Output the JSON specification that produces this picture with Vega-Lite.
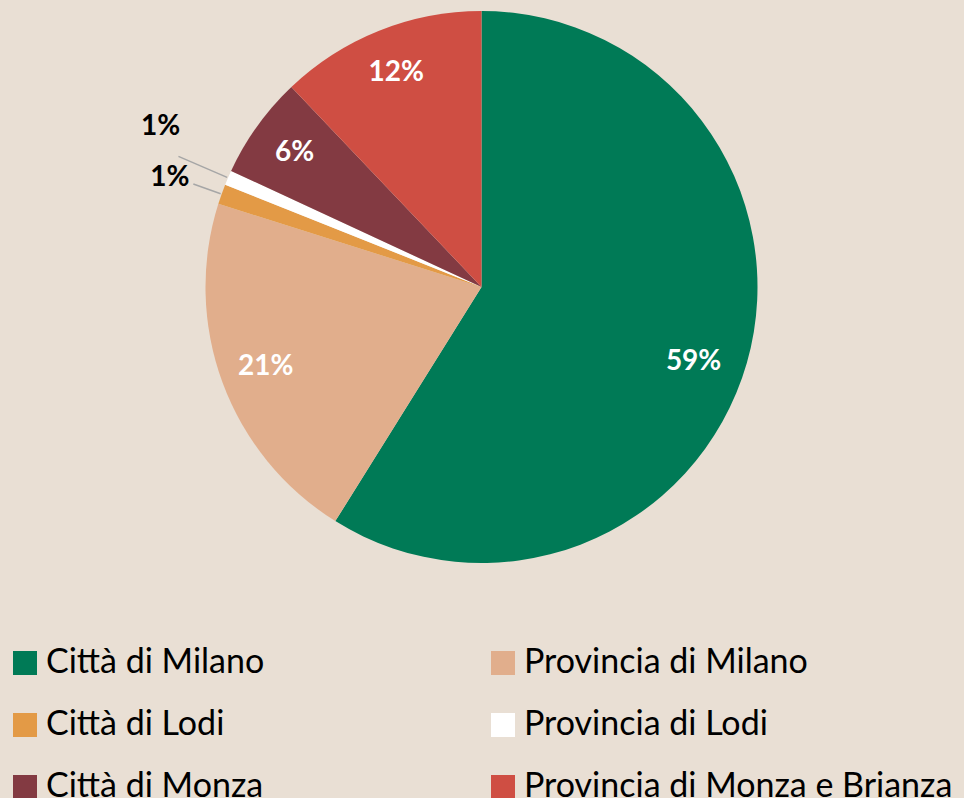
{
  "$schema": "https://vega.github.io/schema/vega-lite/v6.json",
  "width": 963,
  "height": 574,
  "autosize": "none",
  "padding": {"left": 0, "top": 0, "right": 1, "bottom": 224},
  "background": "#E9DFD4",
  "config": {"view": {"stroke": null}, "font": "Lato"},
  "data": {
    "values": [
      {"idx": 1, "cat": "Città di Milano", "value": 58.9, "label": "59%"},
      {"idx": 2, "cat": "Provincia di Milano", "value": 21.0, "label": "21%"},
      {"idx": 3, "cat": "Città di Lodi", "value": 1.17, "label": "1%"},
      {"idx": 4, "cat": "Provincia di Lodi", "value": 0.86, "label": "1%"},
      {"idx": 5, "cat": "Città di Monza", "value": 6.0, "label": "6%"},
      {"idx": 6, "cat": "Provincia di Monza e Brianza", "value": 12.1, "label": "12%"}
    ]
  },
  "encoding": {
    "theta": {"field": "value", "type": "quantitative", "stack": true},
    "order": {"field": "idx", "type": "quantitative", "sort": "ascending"},
    "detail": {"field": "cat", "type": "nominal"}
  },
  "layer": [
    {
      "mark": {"type": "arc", "outerRadius": 276},
      "encoding": {
        "color": {
          "field": "cat",
          "type": "nominal",
          "scale": {
            "domain": ["Città di Milano", "Provincia di Milano", "Città di Lodi", "Provincia di Lodi", "Città di Monza", "Provincia di Monza e Brianza"],
            "range": ["#007A56", "#E1AE8C", "#E39A46", "#FFFFFF", "#833A42", "#CF4E43"]
          },
          "legend": {
            "title": null,
            "orient": "none",
            "legendX": 8,
            "legendY": 646,
            "columns": 2,
            "direction": "horizontal",
            "symbolType": "square",
            "symbolSize": 576,
            "symbolStrokeWidth": 0,
            "labelFontSize": 34,
            "labelFont": "Lato",
            "labelColor": "#000000",
            "labelLimit": 600,
            "labelOffset": 4,
            "rowPadding": 28,
            "columnPadding": 221,
            "padding": 0
          }
        }
      }
    },
    {
      "mark": {"type": "text", "radius": 230, "fontSize": 28, "fontWeight": "bold", "fill": "#FFFFFF"},
      "encoding": {
        "text": {"field": "label", "type": "nominal", "condition": {"test": "datum.value < 2 || datum.value > 50", "value": ""}}
      }
    },
    {
      "mark": {"type": "text", "radius": 230, "dx": -9, "dy": 12, "fontSize": 28, "fontWeight": "bold", "fill": "#FFFFFF"},
      "encoding": {
        "text": {"field": "label", "type": "nominal", "condition": {"test": "datum.value < 50", "value": ""}}
      }
    },
    {
      "mark": {"type": "text", "radius": 331, "dy": 2, "fontSize": 28, "fontWeight": "bold", "fill": "#000000"},
      "encoding": {
        "text": {"field": "label", "type": "nominal", "condition": {"test": "datum.cat !== 'Città di Lodi'", "value": ""}}
      }
    },
    {
      "mark": {"type": "text", "radius": 345, "dx": -4, "dy": -23, "fontSize": 28, "fontWeight": "bold", "fill": "#000000"},
      "encoding": {
        "text": {"field": "label", "type": "nominal", "condition": {"test": "datum.cat !== 'Provincia di Lodi'", "value": ""}}
      }
    },
    {
      "mark": {"type": "arc", "radius": 277, "radius2": 306, "padAngle": 1, "fillOpacity": 0, "stroke": "#A6A6A6", "strokeWidth": 1.5},
      "encoding": {
        "strokeOpacity": {"condition": {"test": "datum.cat === 'Città di Lodi'", "value": 1}, "value": 0}
      }
    },
    {
      "mark": {"type": "arc", "radius": 277, "radius2": 330, "padAngle": 1, "fillOpacity": 0, "stroke": "#A6A6A6", "strokeWidth": 1.5},
      "encoding": {
        "strokeOpacity": {"condition": {"test": "datum.cat === 'Provincia di Lodi'", "value": 1}, "value": 0}
      }
    }
  ]
}
